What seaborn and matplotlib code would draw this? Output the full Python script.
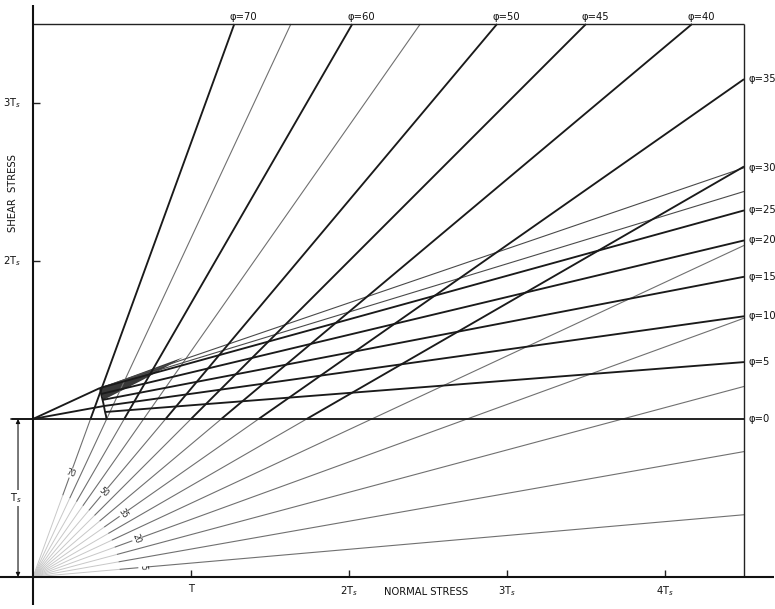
import numpy as np
import pandas as pd
import matplotlib
matplotlib.use("Agg")
import matplotlib.pyplot as plt
import seaborn as sns

# ---------------- data (stress in units of Ts) ----------------
fan_angles = [5, 10, 15, 20, 25, 30, 35, 40, 45, 50, 55, 60, 65, 70]
heavy_fan_angles = [30, 35, 40, 45, 50, 60, 70]
fan_label_angles = [5, 20, 35, 50, 70]

low_phi = [0, 5, 10, 15, 20, 25]
low_end_tau = [1.00, 1.36, 1.65, 1.90, 2.13, 2.32]
low_start_sigma = [-0.13, 0.456, 0.449, 0.437, 0.430, 0.424]
low_start_tau = [1.00, 1.044, 1.082, 1.120, 1.158, 1.196]

extra_env_end_tau = [2.59, 2.44]          # thin envelope lines from wedge tip
curve_sigma = [0.424, 0.433, 0.445, 0.456, 0.462, 0.465]
curve_tau = [1.196, 1.15, 1.10, 1.044, 1.02, 1.00]

top_labels = [70, 60, 50, 45, 40]
right_labels = [35, 30, 25, 20, 15, 10, 5, 0]

x_tick_vals = [1, 2, 3, 4]
x_tick_text = ["T", "2T$_s$", "3T$_s$", "4T$_s$"]
y_tick_vals = [2, 3]
y_tick_text = ["2T$_s$", "3T$_s$"]

SIG_MAX, TAU_MAX = 4.5, 3.5

# ---------------- build segments ----------------
rows = []
def seg(name, kind, xs, ys):
    for x, y in zip(xs, ys):
        rows.append(dict(seg=name, kind=kind, x=x, y=y))

def fan_end(a):
    t = np.tan(np.radians(a))
    if SIG_MAX * t <= TAU_MAX:
        return SIG_MAX, SIG_MAX * t
    return TAU_MAX / t, TAU_MAX

R_IN = 0.55
for a in fan_angles:
    c, s = np.cos(np.radians(a)), np.sin(np.radians(a))
    t = np.tan(np.radians(a))
    ex, ey = fan_end(a)
    seg(f"fan_in{a}", "faint", [0, R_IN * c], [0, R_IN * s])
    if a in heavy_fan_angles:
        sx = 1.0 / t
        seg(f"fan_lo{a}", "thin", [R_IN * c, sx], [R_IN * s, 1.0])
        seg(f"fan_hi{a}", "heavy", [sx, ex], [1.0, ey])
    else:
        seg(f"fan{a}", "thin", [R_IN * c, ex], [R_IN * s, ey])

for p, sx, sy, ey in zip(low_phi, low_start_sigma, low_start_tau, low_end_tau):
    seg(f"env{p}", "heavy", [sx, SIG_MAX], [sy, ey])

for i, ey in enumerate(extra_env_end_tau):
    seg(f"xenv{i}", "mid", [curve_sigma[0], SIG_MAX], [curve_tau[0], ey])

seg("curve", "heavy", curve_sigma, curve_tau)
seg("tip1", "heavy", [0, low_start_sigma[5]], [1.0, low_start_tau[5]])
seg("tip2", "heavy", [0, low_start_sigma[2]], [1.0, low_start_tau[2]])

# frame / axes
seg("top", "frame", [0, SIG_MAX], [TAU_MAX, TAU_MAX])
seg("right", "frame", [SIG_MAX, SIG_MAX], [0, TAU_MAX])
seg("yaxis", "axis", [0, 0], [-0.18, 3.62])
seg("xaxis", "axis", [-0.21, 4.69], [0, 0])
for v in x_tick_vals:
    seg(f"xt{v}", "frame", [v, v], [0, 0.045])
for v in y_tick_vals:
    seg(f"yt{v}", "frame", [0, 0.045], [v, v])

df = pd.DataFrame(rows)

# ---------------- draw ----------------
sns.set_theme(style="white")
plt.rcParams["font.family"] = ["DejaVu Sans"]
fig = plt.figure(figsize=(7.75, 6.09), dpi=100)
ax = fig.add_axes([0, 0, 1, 1])
ax.set_xlim(-0.209, 4.696)
ax.set_ylim(-0.203, 3.652)
ax.set_axis_off()

styles = {
    "faint": dict(color="#c8c8c8", lw=0.7),
    "thin": dict(color="#707070", lw=0.8),
    "mid": dict(color="#4a4a4a", lw=0.8),
    "heavy": dict(color="#1a1a1a", lw=1.35),
    "frame": dict(color="#222222", lw=1.0),
    "axis": dict(color="#111111", lw=1.5),
}

# wedge shading (dense hatching near wedge tip)
wedge = np.array([[0.424, 1.196], [0.95, 1.39], [0.70, 1.25], [0.445, 1.12]])
ax.fill(wedge[:, 0], wedge[:, 1], color="#383838", lw=0, zorder=2)

for kind in ["faint", "thin", "mid", "heavy", "frame", "axis"]:
    sub = df[df.kind == kind]
    sns.lineplot(data=sub, x="x", y="y", units="seg", estimator=None,
                 sort=False, ax=ax, legend=False, zorder=3,
                 solid_capstyle="butt", **styles[kind])
ax.set_xlabel("")
ax.set_ylabel("")
ax.set_axis_off()

fs = 7.2
# top labels
for a in top_labels:
    ex, ey = fan_end(a)
    ax.text(ex - 0.03, TAU_MAX + 0.015, f"φ={a}", fontsize=fs, ha="left",
            va="bottom", color="#111")
# right labels
lab_tau = {35: fan_end(35)[1], 30: 2.59}
for p, e in zip(low_phi, low_end_tau):
    lab_tau[p] = e
for p in right_labels:
    ax.text(SIG_MAX + 0.03, lab_tau[p], f"φ={p}", fontsize=fs, ha="left",
            va="center", color="#111")

# fan labels near origin (written across the lines)
for a in fan_label_angles:
    r = 0.70
    c, s = np.cos(np.radians(a)), np.sin(np.radians(a))
    ax.text(r * c, r * s, str(a), fontsize=5.5, rotation=a - 90,
            rotation_mode="anchor", ha="center", va="center", color="#222",
            bbox=dict(boxstyle="square,pad=0.05", fc="white", ec="none"), zorder=5)

# axis tick labels
for v, t in zip(x_tick_vals, x_tick_text):
    ax.text(v, -0.045, t, fontsize=fs, ha="center", va="top", color="#111")
for v, t in zip(y_tick_vals, y_tick_text):
    ax.text(-0.075, v, t, fontsize=fs, ha="right", va="center", color="#111")
ax.text(2.49, -0.065, "NORMAL STRESS", fontsize=fs, ha="center", va="top",
        color="#111")
ax.text(-0.128, 2.43, "SHEAR  STRESS", fontsize=fs, ha="center", va="center",
        rotation=90, color="#111")

# Ts dimension arrow
ax.annotate("", xy=(-0.095, 0.0), xytext=(-0.095, 1.0),
            arrowprops=dict(arrowstyle="<|-|>", color="#111", lw=0.8,
                            mutation_scale=6, shrinkA=0, shrinkB=0))
ax.plot([-0.14, 0], [1.0, 1.0], color="#111", lw=1.2)
ax.text(-0.11, 0.5, "T$_s$", fontsize=fs, ha="center", va="center", color="#111",
        bbox=dict(boxstyle="square,pad=0.15", fc="white", ec="none"), zorder=5)

fig.savefig("out.png", dpi=100, facecolor="white")
